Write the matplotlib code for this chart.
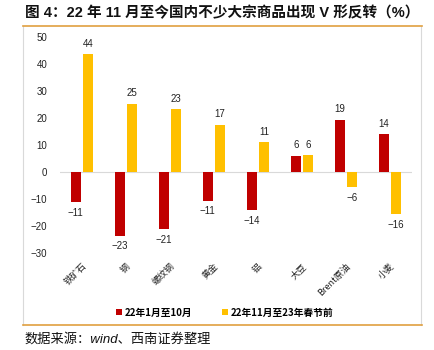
import numpy as np
import matplotlib
matplotlib.use('Agg')
from matplotlib import pyplot as plt
from matplotlib.lines import Line2D

plt.rcParams['font.family'] = ['Liberation Sans', 'Noto Sans CJK SC', 'DejaVu Sans']
plt.rcParams['axes.unicode_minus'] = True

categories = ['铁矿石', '钢', '螺纹钢', '黄金', '铝', '大豆', 'Brent原油', '小麦']
before = [-11.1, -23.4, -21.0, -10.6, -14.0, 6.0, 19.4, 14.0]
after = [43.6, 25.3, 23.3, 17.4, 11.0, 6.3, -5.6, -15.6]
series_names = ['22年1月至10月', '22年11月至23年春节前']
yticks = [-30, -20, -10, 0, 10, 20, 30, 40, 50]

red = '#C00000'
yellow = '#FFC000'

fig = plt.figure(figsize=(4.34, 3.5), dpi=100)
ax = fig.add_axes([0.138, 0.276, 0.811, 0.619])

x = np.arange(len(categories))
w = 0.24
off = 0.137
b1 = ax.bar(x - off, before, w, color=red, label=series_names[0])
b2 = ax.bar(x + off, after, w, color=yellow, label=series_names[1])

for bars, vals in ((b1, before), (b2, after)):
    for rect, v in zip(bars, vals):
        txt = '%d' % round(v)
        txt = txt.replace('-', '\u2212')
        cx = rect.get_x() + rect.get_width() / 2
        if v >= 0:
            ax.annotate(txt, (cx, v), xytext=(0, 4), textcoords='offset points',
                        ha='center', va='bottom', fontsize=7, color='#222222')
        else:
            ax.annotate(txt, (cx, v), xytext=(0, -4), textcoords='offset points',
                        ha='center', va='top', fontsize=7, color='#222222')

ax.set_xlim(-0.5, len(categories) - 0.5)
ax.set_ylim(-30, 50)
ax.set_yticks(yticks)
ax.set_yticklabels([str(t).replace('-', '\u2212') for t in yticks], fontsize=7, color='#222222')
ax.set_xticks(x)
ax.set_xticklabels(categories, rotation=45, ha='right', va='top', rotation_mode='anchor',
                   fontsize=6.5, color='#222222', family=['Noto Sans CJK SC', 'DejaVu Sans'])
ax.tick_params(axis='both', length=0)
ax.tick_params(axis='x', pad=6)
ax.tick_params(axis='y', pad=9)
for s in ax.spines.values():
    s.set_visible(False)
ax.axhline(0, color='#d9d9d9', lw=0.8, zorder=0)

leg = fig.legend(handles=[b1, b2], loc='center', bbox_to_anchor=(0.518, 0.107), ncol=2,
                 frameon=False, fontsize=7, handlelength=0.6, handleheight=0.6,
                 handletextpad=0.3, columnspacing=3.0,
                 prop={'family': ['Noto Sans CJK SC', 'DejaVu Sans'], 'size': 7, 'weight': 'bold'})

# frame and orange rules
fig.add_artist(Line2D([0.053, 0.053], [0.0714, 0.9257], color='#d9d9d9', lw=0.8))
fig.add_artist(Line2D([0.970, 0.970], [0.0714, 0.9257], color='#d9d9d9', lw=0.8))
fig.add_artist(Line2D([0.053, 0.972], [0.9257, 0.9257], color='#E0A040', lw=1.2))
fig.add_artist(Line2D([0.053, 0.972], [0.0714, 0.0714], color='#E0A040', lw=1.2))

fig.text(0.057, 0.962, '图 4：22 年 11 月至今国内不少大宗商品出现 V 形反转（%）',
         fontsize=10.5, fontweight='bold', ha='left', va='center', color='#111111')
fig.text(0.057, 0.03, '数据来源：wind、西南证券整理', fontsize=9.5, style='italic',
         ha='left', va='center', color='#111111')

fig.savefig('out.png', dpi=100)
